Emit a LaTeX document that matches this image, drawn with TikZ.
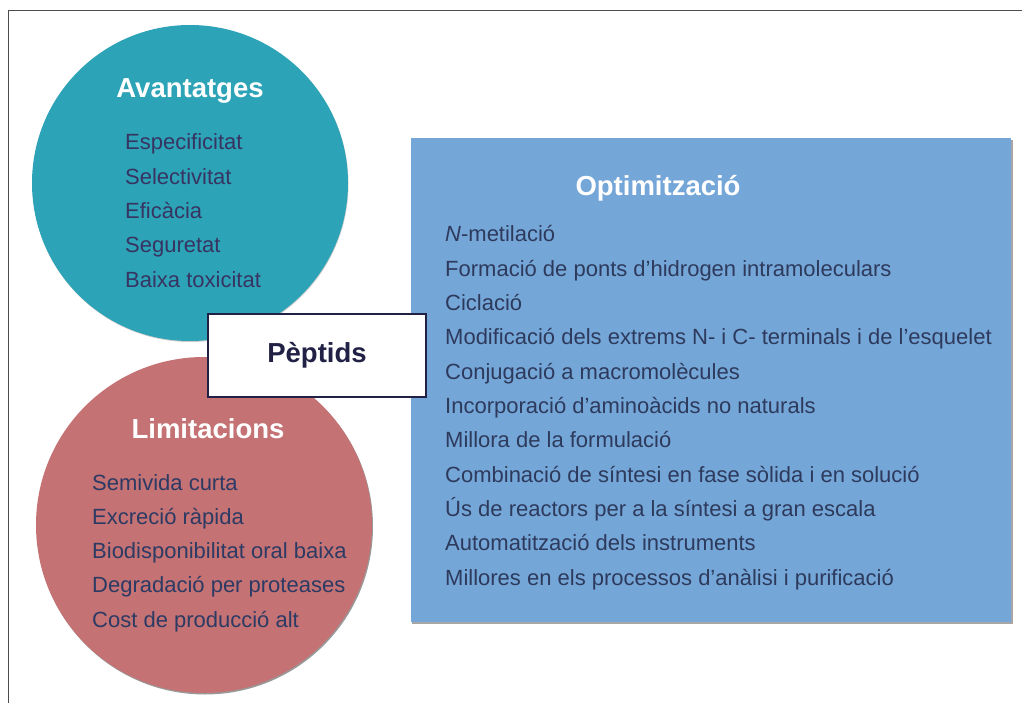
\documentclass[tikz,border=0pt]{standalone}
\usepackage{fontspec}
\setmainfont{Liberation Sans}
\definecolor{avcol}{RGB}{44,163,182}
\definecolor{limcol}{RGB}{196,114,115}
\definecolor{optcol}{RGB}{117,166,216}
\definecolor{inkav}{RGB}{55,52,98}
\definecolor{inklim}{RGB}{44,58,100}
\definecolor{inkopt}{RGB}{45,58,92}
\definecolor{navy}{RGB}{33,33,70}
\tikzset{
  title/.style={anchor=base,inner sep=0pt,white,font=\fontsize{27.5}{32}\selectfont\bfseries},
  item/.style={anchor=base west,inner sep=0pt,font=\fontsize{22}{26}\selectfont},
}
\begin{document}
\begin{tikzpicture}[x=1pt,y=-1pt]
\useasboundingbox (0,0) rectangle (1022,703);
% frame
\draw[line width=1pt,black!70] (8.5,703) -- (8.5,10.5) -- (1022,10.5);
% circles and box
\fill[black!20] (190.5,184) circle[radius=158];
\fill[avcol] (190,183) circle[radius=158];
\fill[black!40] (205,526.5) circle[radius=168];
\fill[limcol] (204,525) circle[radius=168];
\fill[black!35] (412,140) rectangle (1013,624);
\fill[optcol] (411,138) rectangle (1011,622);
% titles
\node[title] (av) at (190,98) {Avantatges};
\node[title] (lim) at (208,438) {Limitacions};
\node[title] (opt) at (658,196) {Optimització};
% lists
\foreach \txt [count=\i] in {Especificitat,Selectivitat,Eficàcia,Seguretat,Baixa toxicitat}
  \node[item,inkav] (av-\i) at (125,{150+34.3*(\i-1)}) {\txt};
\foreach \txt [count=\i] in {Semivida curta,Excreció ràpida,Biodisponibilitat oral baixa,Degradació per proteases,Cost de producció alt}
  \node[item,inklim] (lim-\i) at (92,{490+34.3*(\i-1)}) {\txt};
\foreach \txt [count=\i] in {{\textit{N}-metilació},Formació de ponts d’hidrogen intramoleculars,Ciclació,Modificació dels extrems N- i C- terminals i de l’esquelet,Conjugació a macromolècules,Incorporació d’aminoàcids no naturals,Millora de la formulació,Combinació de síntesi en fase sòlida i en solució,Ús de reactors per a la síntesi a gran escala,Automatització dels instruments,Millores en els processos d’anàlisi i purificació}
  \node[item,inkopt] (opt-\i) at (445,{242+34.3*(\i-1)}) {\txt};
% centre
\node[draw=navy,line width=2.8pt,fill=white,minimum width=218,minimum height=83,
  text=navy,font=\fontsize{27.5}{32}\selectfont\bfseries] (pep) at (317,355.5) {Pèptids};
\end{tikzpicture}
\end{document}
